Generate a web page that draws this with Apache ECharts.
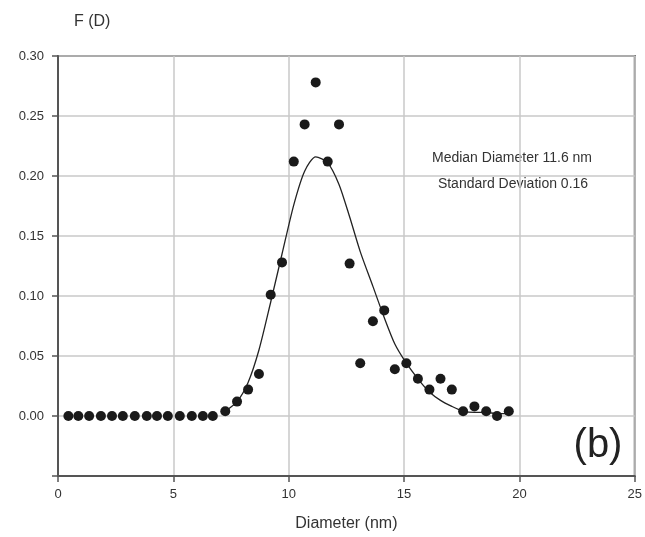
<!DOCTYPE html>
<html>
<head>
<meta charset="utf-8">
<script src="https://cdn.jsdelivr.net/npm/echarts@6/dist/echarts.min.js"></script>
<style>
html,body{margin:0;padding:0;background:#fff;}
#chart{width:645px;height:537px;}
</style>
</head>
<body>
<div id="chart"></div>
<script>
// Measured distribution points (diameter in nm, F(D))
var pointDiameters = [0.45,0.88,1.35,1.86,2.34,2.81,3.33,3.85,4.29,4.76,5.28,5.80,6.28,6.71,7.25,7.76,8.24,8.71,9.22,9.71,10.22,10.69,11.17,11.69,12.18,12.64,13.10,13.65,14.14,14.60,15.10,15.60,16.10,16.58,17.07,17.56,18.05,18.56,19.03,19.54];
var pointValues = [0,0,0,0,0,0,0,0,0,0,0,0,0,0,0.004,0.012,0.022,0.035,0.101,0.128,0.212,0.243,0.278,0.212,0.243,0.127,0.044,0.079,0.088,0.039,0.044,0.031,0.022,0.031,0.022,0.004,0.008,0.004,0.000,0.004];
// Fitted curve
var curveDiameters = [7.25,7.76,8.24,8.71,9.22,9.71,10.22,10.69,11.17,11.69,12.18,12.64,13.10,13.65,14.14,14.60,15.10,15.60,16.10,16.58,17.07,17.56,18.05,18.56,19.03,19.54];
var curveValues = [0.004,0.012,0.028,0.055,0.095,0.135,0.176,0.204,0.216,0.211,0.193,0.166,0.137,0.108,0.082,0.060,0.044,0.031,0.020,0.013,0.008,0.004,0.003,0.003,0.002,0.002];
// Axis ticks
var xTicks = [0,5,10,15,20,25];
var yTicks = [0.00,0.05,0.10,0.15,0.20,0.25,0.30];
var annotationLines = ['Median Diameter 11.6 nm','Standard Deviation 0.16'];
var panelLabel = '(b)';
var yAxisTitle = 'F (D)';
var xAxisTitle = 'Diameter (nm)';

var chart = echarts.init(document.getElementById('chart'));
var font = 'Liberation Sans, Arial, sans-serif';
var pts = pointDiameters.map(function(d,i){return [d, pointValues[i]];});
var crv = curveDiameters.map(function(d,i){return [d, curveValues[i]];});

chart.setOption({
  animation:false,
  backgroundColor:'#fff',
  textStyle:{fontFamily:font},
  grid:{left:58,right:9,top:56,bottom:61,show:true,borderColor:'#555',borderWidth:2,backgroundColor:'transparent'},
  xAxis:{
    type:'value',min:xTicks[0],max:xTicks[xTicks.length-1],interval:5,
    name:xAxisTitle,nameLocation:'middle',nameGap:40,
    nameTextStyle:{fontSize:16,color:'#333',fontFamily:font},
    axisLine:{show:true,onZero:false,lineStyle:{color:'#555',width:2}},
    axisTick:{show:true,length:6,lineStyle:{color:'#555',width:1.5}},
    axisLabel:{fontSize:13,color:'#333',margin:12,fontFamily:font},
    splitLine:{show:true,lineStyle:{color:'#c8c8c8',width:1.5}}
  },
  yAxis:{
    type:'value',min:-0.05,max:yTicks[yTicks.length-1],interval:0.05,
    axisLine:{show:true,onZero:false,lineStyle:{color:'#555',width:2}},
    axisTick:{show:true,length:6,lineStyle:{color:'#555',width:1.5}},
    axisLabel:{fontSize:13,color:'#333',margin:14,fontFamily:font,
      formatter:function(v){ return v < -0.001 ? '' : v.toFixed(2); }},
    splitLine:{show:true,lineStyle:{color:'#c8c8c8',width:1.5}}
  },
  graphic:[
    {type:'text',left:74,top:14,style:{text:yAxisTitle,fontSize:16,fill:'#333',font:'16px '+font}},
    {type:'text',x:512,y:158,style:{text:annotationLines[0],fill:'#333',font:'14px '+font,textAlign:'center',textVerticalAlign:'middle'}},
    {type:'text',x:513,y:184,style:{text:annotationLines[1],fill:'#333',font:'14px '+font,textAlign:'center',textVerticalAlign:'middle'}},
    {type:'text',x:598,y:446,style:{text:panelLabel,fill:'#222',font:'40px '+font,textAlign:'center',textVerticalAlign:'middle'}}
  ],
  series:[
    {type:'line',data:crv,showSymbol:false,symbol:'none',smooth:0.25,
     lineStyle:{color:'#222',width:1.3},z:2},
    {type:'scatter',data:pts,symbol:'circle',symbolSize:10,
     itemStyle:{color:'#1a1a1a',opacity:1},z:3}
  ]
});
</script>
</body>
</html>
